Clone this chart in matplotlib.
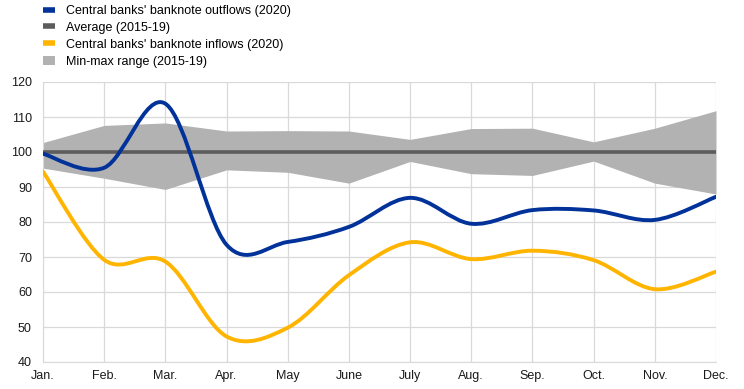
import numpy as np
import matplotlib.pyplot as plt
from matplotlib.path import Path
from matplotlib.patches import PathPatch, Patch
from matplotlib.lines import Line2D

plt.rcParams['font.family'] = ['Liberation Sans', 'DejaVu Sans']

months = ['Jan.', 'Feb.', 'Mar.', 'Apr.', 'May', 'June', 'July', 'Aug.', 'Sep.', 'Oct.', 'Nov.', 'Dec.']
outflows = [99.5, 95.5, 113.8, 73.5, 74.3, 78.6, 86.9, 79.5, 83.4, 83.3, 80.6, 87.2]
inflows = [94.4, 69.2, 68.7, 47.3, 49.8, 64.8, 74.2, 69.4, 71.8, 69.1, 60.8, 65.8]
average = [100] * 12
range_min = [95.4, 92.5, 89.3, 94.9, 94.2, 91.1, 97.3, 93.8, 93.3, 97.4, 91.1, 88.0]
range_max = [102.7, 107.6, 108.3, 106.0, 106.1, 106.0, 103.6, 106.7, 106.8, 102.9, 106.8, 111.8]

BLUE = '#003299'
YELLOW = '#ffb400'
DARK = '#5c5c5c'
LIGHT = '#b2b2b2'


def smooth_path(x, y):
    """Excel-like smoothed line as cubic Bezier segments through the points."""
    x = np.asarray(x, float)
    y = np.asarray(y, float)
    n = len(x)
    verts = [(x[0], y[0])]
    codes = [Path.MOVETO]
    for i in range(n - 1):
        p0 = i - 1 if i > 0 else i
        p3 = i + 2 if i + 2 < n else i + 1
        c1 = (x[i] + (x[i + 1] - x[p0]) / 6, y[i] + (y[i + 1] - y[p0]) / 6)
        c2 = (x[i + 1] - (x[p3] - x[i]) / 6, y[i + 1] - (y[p3] - y[i]) / 6)
        verts += [c1, c2, (x[i + 1], y[i + 1])]
        codes += [Path.CURVE4] * 3
    return Path(verts, codes)


fig = plt.figure(figsize=(7.44, 3.89), dpi=100)
ax = fig.add_axes([43 / 744, 1 - 362 / 389, (716 - 43) / 744, 280 / 389])

x = np.arange(len(months))
ax.fill_between(x, range_min, range_max, color=LIGHT, lw=0, zorder=2)
ax.plot(x, average, color=DARK, lw=2.6, zorder=3)
for vals, col in [(inflows, YELLOW), (outflows, BLUE)]:
    ax.add_patch(PathPatch(smooth_path(x, vals), facecolor='none', edgecolor=col,
                           lw=2.8, capstyle='round', zorder=4))

ax.set_xlim(0, 11)
ax.set_ylim(40, 120)
ax.set_xticks(x)
ax.set_xticklabels(months)
ax.set_yticks(range(40, 121, 10))
ax.grid(True, color='#d9d9d9', lw=0.9, zorder=0)
ax.set_axisbelow(True)
for s in ['top', 'right']:
    ax.spines[s].set_visible(False)
for s in ['left', 'bottom']:
    ax.spines[s].set_color('#d9d9d9')
ax.tick_params(length=0, labelsize=9, colors='#1a1a1a')
ax.tick_params(axis='y', pad=8)
ax.tick_params(axis='x', pad=6)

handles = [
    Line2D([], [], color=BLUE, lw=4, solid_capstyle='butt'),
    Line2D([], [], color=DARK, lw=4, solid_capstyle='butt'),
    Line2D([], [], color=YELLOW, lw=4, solid_capstyle='butt'),
    Patch(facecolor=LIGHT, edgecolor='none'),
]
labels = ["Central banks' banknote outflows (2020)", 'Average (2015-19)',
          "Central banks' banknote inflows (2020)", 'Min-max range (2015-19)']
fig.legend(handles, labels, loc='upper left', bbox_to_anchor=(38 / 744, 1),
           frameon=False, fontsize=9, handlelength=0.95, handleheight=0.8,
           handletextpad=0.85, labelspacing=0.38, borderaxespad=0)

fig.savefig('out.png', dpi=100)
